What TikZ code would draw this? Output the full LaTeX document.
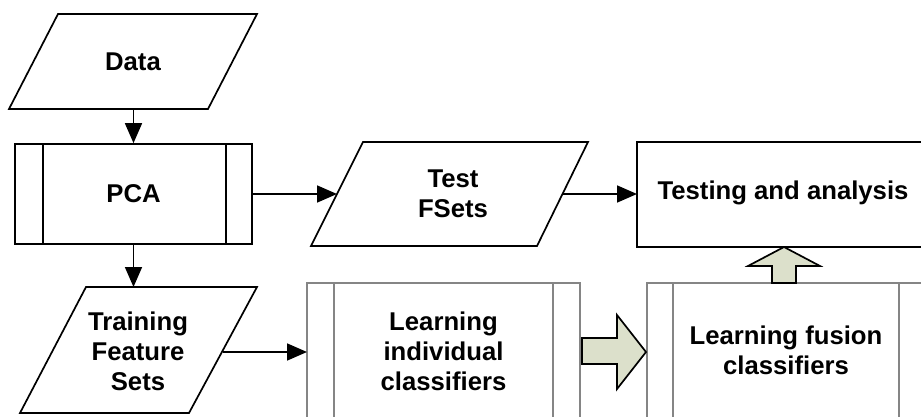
\documentclass[tikz,border=0pt]{standalone}
\usepackage{fontspec}
\setmainfont{Liberation Sans}
\usetikzlibrary{arrows.meta}
\definecolor{sage}{HTML}{DCE0CB}
\definecolor{boxgray}{HTML}{858585}
\begin{document}
\begin{tikzpicture}[x=1pt,y=-1pt,
  txt/.style={font=\fontsize{25.7}{30}\selectfont\bfseries, align=center, inner sep=0pt},
  blk/.style={draw=black, line width=1.7pt, fill=white},
  thinline/.style={draw=black, line width=1.7pt},
  gry/.style={draw=boxgray, line width=1.2pt},
  con/.style={draw=black, line width=1.7pt, -{Triangle[length=20pt,width=17pt]}},
  fat/.style={draw=black, line width=1.7pt, fill=sage, line join=miter}]
\useasboundingbox (0,0) rectangle (921,417);
\fill[white] (0,0) rectangle (921,417);

% Data
\draw[blk] (58,14) -- (257,14) -- (208,109) -- (9,109) -- cycle;
\node[txt] (data) at (133,62) {Data};
\coordinate (dataB) at (133.5,109);

% PCA
\node[blk, txt, minimum width=237pt, minimum height=100pt] (pca) at (133.5,194) {PCA};
\draw[thinline] (43,144) -- (43,244);
\draw[thinline] (226,144) -- (226,244);

% Training Feature Sets
\draw[blk] (86,287) -- (257,287) -- (189,413) -- (20,413) -- cycle;
\node[txt] (train) at (138,351) {Training\\Feature\\Sets};
\coordinate (trainT) at (133.5,287);
\coordinate (trainR) at (223,352);

% Test FSets
\draw[blk] (363,142) -- (588,142) -- (537,246) -- (311,246) -- cycle;
\node[txt] (tf) at (453,194) {Test\\FSets};
\coordinate (tfL) at (337,194);
\coordinate (tfR) at (562,194);

% Testing and analysis
\draw[blk] (940,142) -- (637,142) -- (637,247) -- (940,247);
\node[txt] (test) at (783,193) {Testing and analysis};
\coordinate (testL) at (637,194);
\coordinate (testB) at (784,247);

% Learning individual classifiers
\draw[gry] (307,440) -- (307,283) -- (580,283) -- (580,440);
\draw[gry] (334,283) -- (334,440);
\draw[gry] (553,283) -- (553,440);
\node[txt] (ind) at (443.5,351) {Learning\\individual\\classifiers};
\coordinate (indL) at (307,352);
\coordinate (indR) at (582,351);

% Learning fusion classifiers
\draw[gry] (647,440) -- (647,283) -- (940,283);
\draw[gry] (673,283) -- (673,440);
\draw[gry] (899,283) -- (899,440);
\node[txt] (fus) at (786,350) {Learning fusion\\classifiers};
\coordinate (fusL) at (646,352);
\coordinate (fusT) at (784,283);

% connectors
\draw[con] (dataB) -- (pca.north);
\draw[con] (pca.south) -- (trainT);
\draw[con] (pca.east) -- (tfL);
\draw[con] (tfR) -- (testL);
\draw[con] (trainR) -- (indL);

% block arrows
\draw[fat] (indR |- 0,338) -- (617,338) -- (617,315) -- (fusL) -- (617,389) -- (617,364) -- (indR |- 0,364) -- cycle;
\draw[fat] (772,283) -- (772,266) -- (748,266) -- (testB) -- (820,266) -- (796,266) -- (796,283) -- cycle;
\end{tikzpicture}
\end{document}
